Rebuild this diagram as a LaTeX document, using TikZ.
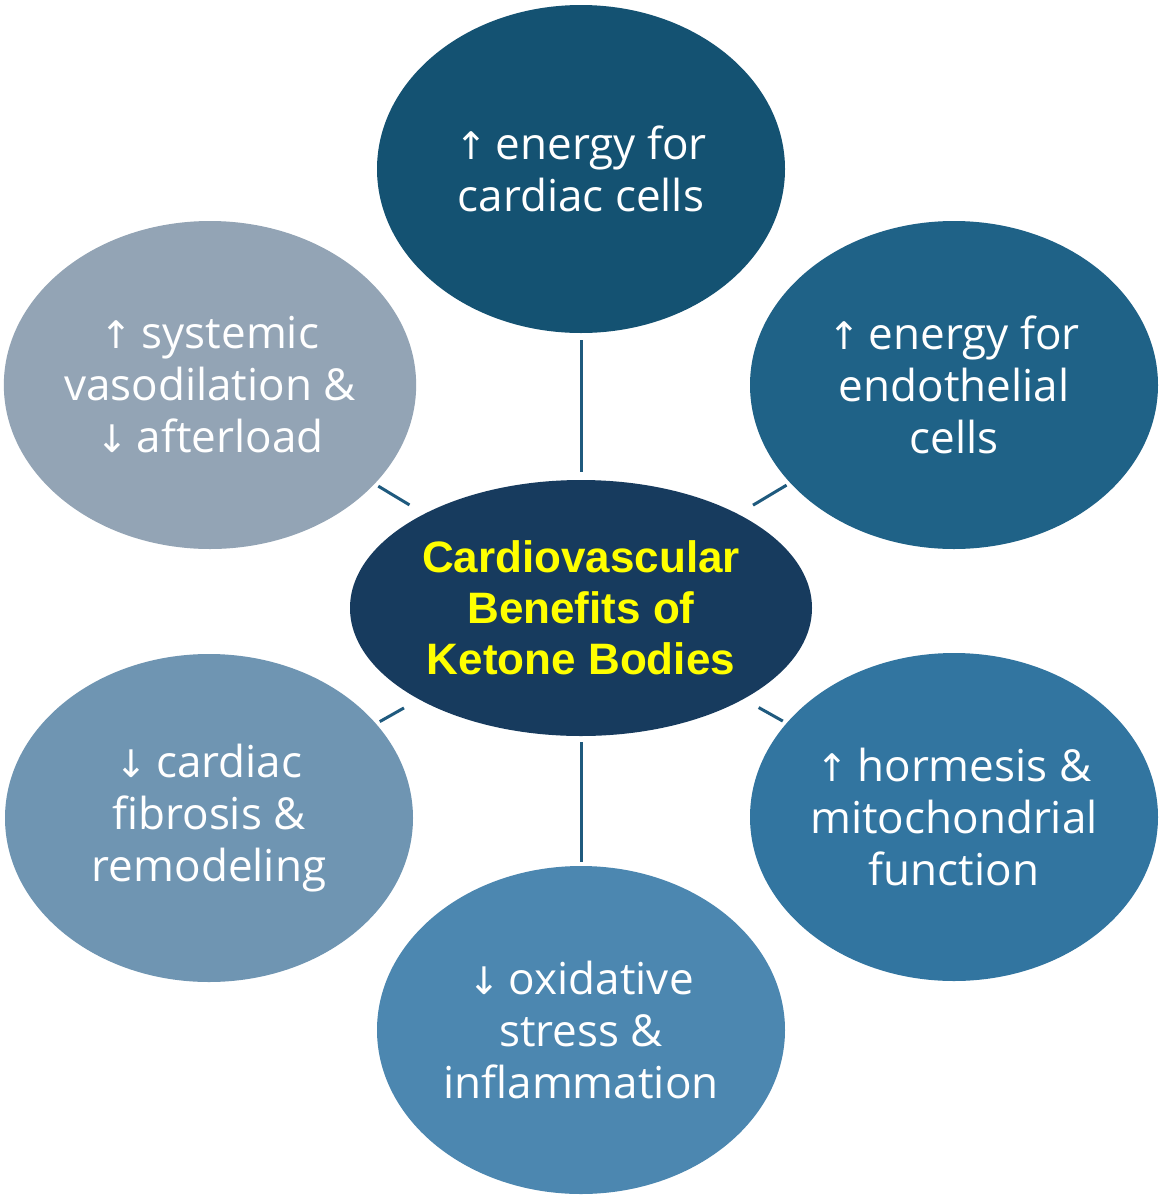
\documentclass[tikz,border=0pt]{standalone}
\usepackage{fontspec}
\setmainfont{Open Sans}
\newfontfamily\centerfont{Liberation Sans}
\newfontfamily\arrowfont{DejaVu Sans}
\usetikzlibrary{shapes.geometric}
\definecolor{ctop}{HTML}{145272}
\definecolor{ctr}{HTML}{1F6287}
\definecolor{cbr}{HTML}{3275A0}
\definecolor{cbot}{HTML}{4C87B0}
\definecolor{cbl}{HTML}{6F95B2}
\definecolor{ctl}{HTML}{93A4B5}
\definecolor{ccen}{HTML}{173B5E}
\definecolor{linecol}{HTML}{1F5A7E}
\definecolor{yel}{HTML}{FFFF00}
\newcommand\myup{{\arrowfont\fontsize{19}{19}\selectfont ↑}\hspace{0.2em}}
\newcommand\mydn{{\arrowfont\fontsize{19}{19}\selectfont ↓}\hspace{0.2em}}
\begin{document}
\begin{tikzpicture}[x=0.5pt,y=-0.5pt,
  outer/.style={ellipse, minimum width=204pt, minimum height=164pt, inner sep=0pt,
    text=white, align=center, font=\fontsize{22}{26}\selectfont},
  hub/.style={ellipse, minimum width=231pt, minimum height=128pt, inner sep=0pt,
    fill=ccen, text=yel, align=center, font=\centerfont\bfseries\fontsize{22}{25.5}\selectfont},
  link/.style={draw=linecol, line width=1.5pt}]
\useasboundingbox (0,0) rectangle (1163,1200);
\fill[white] (0,0) rectangle (1163,1200);

\node[outer, fill=ctop] (top) at (581,169) {\myup energy for\\cardiac cells};
\node[outer, fill=ctl] (tl) at (210,385) {\myup systemic\\vasodilation \&\\\mydn afterload};
\node[outer, fill=ctr] (tr) at (954,385) {\myup energy for\\endothelial\\cells};
\node[outer, fill=cbl] (bl) at (209,818) {\mydn cardiac\\fibrosis \&\\remodeling};
\node[outer, fill=cbr] (br) at (954,817) {\myup hormesis \&\\mitochondrial\\function};
\node[outer, fill=cbot] (bot) at (581,1030) {\mydn oxidative\\stress \&\\inflammation};
\node[hub] (c) at (581,608) {Cardiovascular\\Benefits of\\Ketone Bodies};

\draw[link, shorten <=3.5pt, shorten >=4pt] (top) -- (c);
\draw[link, shorten <=3pt, shorten >=2pt] (c) -- (bot);
\draw[link, shorten <=2pt, shorten >=8.5pt] (tl) -- (c);
\draw[link, shorten <=2pt, shorten >=8.5pt] (tr) -- (c);
\draw[link, shorten <=2pt, shorten >=8.5pt] (bl) -- (c);
\draw[link, shorten <=2pt, shorten >=8.5pt] (br) -- (c);
\end{tikzpicture}
\end{document}
